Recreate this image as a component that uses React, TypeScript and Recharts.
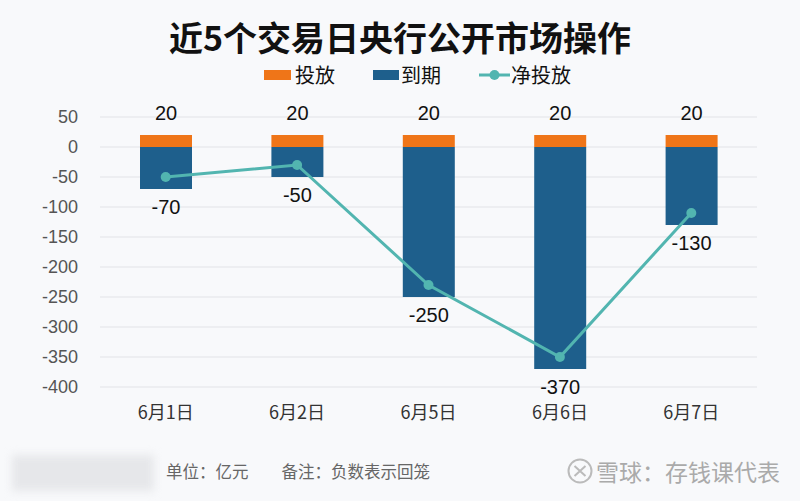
import React from 'react';
import { ComposedChart, Bar, Line, XAxis, YAxis, CartesianGrid, LabelList } from 'recharts';

// 近5个交易日央行公开市场操作（单位：亿元）
const dias = ['6月1日', '6月2日', '6月5日', '6月6日', '6月7日'];
const touFang = [20, 20, 20, 20, 20];
const daoQi = [-70, -50, -250, -370, -130];
const jingTouFang = [-50, -30, -230, -350, -110];
const yTicks = [50, 0, -50, -100, -150, -200, -250, -300, -350, -400];

const data = dias.map((dia, i) => ({
  dia,
  touFang: touFang[i],
  daoQi: daoQi[i],
  jing: jingTouFang[i],
}));

const NUM_FONT = '"Liberation Sans", Arial, "Noto Sans CJK SC", sans-serif';
const CJK_FONT = '"Noto Sans CJK SC", "Liberation Sans", sans-serif';

const ORANGE = '#ef7518';
const BLUE = '#1e5f8c';
const TEAL = '#52b5b0';

const EtiquetaArriba = (props: any) => {
  const { x, y, width, height, value } = props;
  const top = Math.min(y, y + height);
  return (
    <text x={x + width / 2} y={top - 15} textAnchor="middle" fontSize={20} fill="#111" fontFamily={NUM_FONT}>
      {value}
    </text>
  );
};

const EtiquetaAbajo = (props: any) => {
  const { x, y, width, height, value } = props;
  const bottom = Math.max(y, y + height);
  return (
    <text x={x + width / 2} y={bottom + 25} textAnchor="middle" fontSize={20} fill="#111" fontFamily={NUM_FONT}>
      {value}
    </text>
  );
};

export default function App() {
  return (
    <div
      style={{
        position: 'absolute',
        left: 0,
        top: 0,
        width: 800,
        height: 501,
        background: '#f8f9fb',
        overflow: 'hidden',
      }}
    >
      <div
        style={{
          position: 'absolute',
          top: 14,
          width: 800,
          textAlign: 'center',
          fontFamily: CJK_FONT,
          fontWeight: 700,
          fontSize: 34,
          lineHeight: '46px',
          color: '#111',
        }}
      >
        近5个交易日央行公开市场操作
      </div>

      {/* leyenda */}
      <div
        style={{
          position: 'absolute',
          top: 62,
          left: 264,
          display: 'flex',
          alignItems: 'center',
          fontFamily: CJK_FONT,
          fontSize: 20,
          color: '#111',
          lineHeight: '26px',
          whiteSpace: 'nowrap',
        }}
      >
        <span style={{ display: 'inline-block', width: 27, height: 10, background: ORANGE, marginRight: 4 }} />
        <span style={{ marginRight: 38 }}>投放</span>
        <span style={{ display: 'inline-block', width: 26, height: 10, background: BLUE, marginRight: 2 }} />
        <span style={{ marginRight: 38 }}>到期</span>
        <svg width={31} height={12} style={{ marginRight: 1 }}>
          <line x1={0} y1={6} x2={31} y2={6} stroke={TEAL} strokeWidth={3} />
          <circle cx={15.5} cy={6} r={5} fill={TEAL} />
        </svg>
        <span>净投放</span>
      </div>

      <div style={{ position: 'absolute', top: 0, left: 0 }}>
        <ComposedChart
          width={800}
          height={440}
          data={data}
          stackOffset="sign"
          margin={{ top: 117, right: 43, bottom: 23, left: 0 }}
        >
          <CartesianGrid vertical={false} stroke="#e2e4e8" strokeWidth={1.2} />
          <XAxis
            dataKey="dia"
            axisLine={false}
            tickLine={false}
            tickSize={0}
            tickMargin={19}
            height={30}
            tick={{ fontSize: 18, fill: '#333', fontFamily: CJK_FONT }}
          />
          <YAxis
            type="number"
            domain={[-400, 50]}
            ticks={yTicks}
            interval={0}
            axisLine={false}
            tickLine={false}
            tickSize={0}
            tickMargin={22}
            width={100}
            tick={{ fontSize: 18, fill: '#555', fontFamily: NUM_FONT }}
          />
          <Bar dataKey="touFang" stackId="a" fill={ORANGE} barSize={52} isAnimationActive={false}>
            <LabelList dataKey="touFang" content={<EtiquetaArriba />} />
          </Bar>
          <Bar dataKey="daoQi" stackId="a" fill={BLUE} barSize={52} isAnimationActive={false}>
            <LabelList dataKey="daoQi" content={<EtiquetaAbajo />} />
          </Bar>
          <Line
            type="linear"
            dataKey="jing"
            stroke={TEAL}
            strokeWidth={3}
            dot={{ r: 5, fill: TEAL, stroke: TEAL, strokeWidth: 0 }}
            activeDot={false}
            isAnimationActive={false}
          />
        </ComposedChart>
      </div>

      {/* pie de página */}
      <div
        style={{
          position: 'absolute',
          left: 12,
          top: 455,
          width: 142,
          height: 36,
          background: '#e6e7ea',
          filter: 'blur(4px)',
        }}
      />
      <div
        style={{
          position: 'absolute',
          left: 166,
          top: 459,
          fontFamily: CJK_FONT,
          fontSize: 16.5,
          color: '#666',
          lineHeight: '24px',
          whiteSpace: 'nowrap',
        }}
      >
        单位：亿元<span style={{ marginLeft: 33 }}>备注：负数表示回笼</span>
      </div>
      <div
        style={{
          position: 'absolute',
          left: 566,
          top: 455,
          display: 'flex',
          alignItems: 'center',
          fontFamily: CJK_FONT,
          fontSize: 23,
          color: '#aaa',
          lineHeight: '32px',
          whiteSpace: 'nowrap',
        }}
      >
        <svg width={28} height={28} style={{ marginRight: 2 }}>
          <circle cx={14} cy={14} r={11.5} fill="none" stroke="#bbb" strokeWidth={2} />
          <path d="M8.5 9 L19.5 19 M19.5 9 L8.5 19" stroke="#bbb" strokeWidth={2} />
        </svg>
        雪球：存钱课代表
      </div>
    </div>
  );
}
